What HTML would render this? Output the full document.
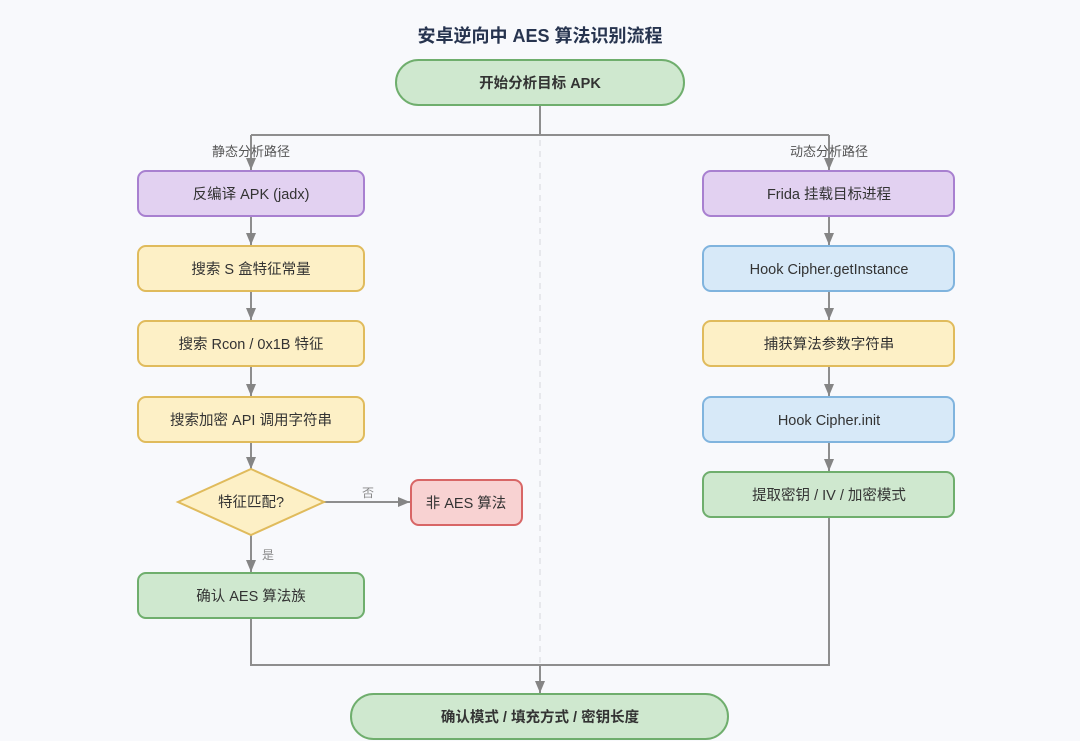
<!DOCTYPE html>
<html><head><meta charset="utf-8"><style>
html,body{margin:0;padding:0;background:#f8f9fc;}
svg{display:block;}
text{font-family:"Liberation Sans","Noto Sans CJK SC",sans-serif;}
</style></head><body>
<svg width="1080" height="741" viewBox="0 0 1080 741" xmlns="http://www.w3.org/2000/svg">
<defs>
<marker id="a" markerWidth="12" markerHeight="10" refX="12" refY="5" orient="auto" markerUnits="userSpaceOnUse">
<path d="M0,0 L12,5 L0,10 Z" fill="#858585"/></marker>
</defs>
<rect width="1080" height="741" fill="#f8f9fc"/>
<text x="540" y="42" text-anchor="middle" font-size="18" font-weight="bold" fill="#27344f">安卓逆向中 AES 算法识别流程</text>
<line x1="540" y1="140" x2="540" y2="682" stroke="#dcdde2" stroke-width="1.2" stroke-dasharray="6,5"/>
<g fill="none" stroke="#8e8e8e" stroke-width="2">
<path d="M540,105 V135"/>
<path d="M251,135 H829"/>
<path d="M251,135 V170" marker-end="url(#a)"/>
<path d="M829,135 V170" marker-end="url(#a)"/>
<path d="M251,216 V245" marker-end="url(#a)"/>
<path d="M251,291 V320" marker-end="url(#a)"/>
<path d="M251,366 V396" marker-end="url(#a)"/>
<path d="M251,442 V469" marker-end="url(#a)"/>
<path d="M324,502 H410" marker-end="url(#a)"/>
<path d="M251,535 V572" marker-end="url(#a)"/>
<path d="M829,216 V245" marker-end="url(#a)"/>
<path d="M829,291 V320" marker-end="url(#a)"/>
<path d="M829,366 V396" marker-end="url(#a)"/>
<path d="M829,442 V471" marker-end="url(#a)"/>
<path d="M251,618 V665 H829 V517"/>
<path d="M540,665 V693" marker-end="url(#a)"/>
</g>
<text x="251" y="156" text-anchor="middle" font-size="13" fill="#555">静态分析路径</text>
<text x="829" y="156" text-anchor="middle" font-size="13" fill="#555">动态分析路径</text>
<text x="368" y="497" text-anchor="middle" font-size="12" fill="#888">否</text>
<text x="268" y="559" text-anchor="middle" font-size="12" fill="#888">是</text>
<g stroke-width="2">
<rect x="396" y="60" width="288" height="45" rx="22.5" fill="#cfe8cf" stroke="#6fae6d"/>
<rect x="138" y="171" width="226" height="45" rx="8" fill="#e2d1f1" stroke="#a880d0"/>
<rect x="138" y="246" width="226" height="45" rx="8" fill="#fdf0c6" stroke="#e0bb5c"/>
<rect x="138" y="321" width="226" height="45" rx="8" fill="#fdf0c6" stroke="#e0bb5c"/>
<rect x="138" y="397" width="226" height="45" rx="8" fill="#fdf0c6" stroke="#e0bb5c"/>
<path d="M251,469 L324,502 L251,535 L178,502 Z" fill="#fdf0c6" stroke="#e0bb5c"/>
<rect x="411" y="480" width="111" height="45" rx="8" fill="#f8d2d2" stroke="#d86666"/>
<rect x="138" y="573" width="226" height="45" rx="8" fill="#cfe8cf" stroke="#6fae6d"/>
<rect x="703" y="171" width="251" height="45" rx="8" fill="#e2d1f1" stroke="#a880d0"/>
<rect x="703" y="246" width="251" height="45" rx="8" fill="#d7e9f8" stroke="#80b4de"/>
<rect x="703" y="321" width="251" height="45" rx="8" fill="#fdf0c6" stroke="#e0bb5c"/>
<rect x="703" y="397" width="251" height="45" rx="8" fill="#d7e9f8" stroke="#80b4de"/>
<rect x="703" y="472" width="251" height="45" rx="8" fill="#cfe8cf" stroke="#6fae6d"/>
<rect x="351" y="694" width="377" height="45" rx="22.5" fill="#cfe8cf" stroke="#6fae6d"/>
</g>
<g font-size="14.5" fill="#333" text-anchor="middle">
<text x="540" y="88" font-weight="bold">开始分析目标 APK</text>
<text x="251" y="199">反编译 APK (jadx)</text>
<text x="251" y="274">搜索 S 盒特征常量</text>
<text x="251" y="349">搜索 Rcon / 0x1B 特征</text>
<text x="251" y="425">搜索加密 API 调用字符串</text>
<text x="251" y="507">特征匹配?</text>
<text x="466" y="508">非 AES 算法</text>
<text x="251" y="601">确认 AES 算法族</text>
<text x="829" y="199">Frida 挂载目标进程</text>
<text x="829" y="274">Hook Cipher.getInstance</text>
<text x="829" y="349">捕获算法参数字符串</text>
<text x="829" y="425">Hook Cipher.init</text>
<text x="829" y="500">提取密钥 / IV / 加密模式</text>
<text x="540" y="722" font-weight="bold">确认模式 / 填充方式 / 密钥长度</text>
</g>
</svg>
</body></html>
